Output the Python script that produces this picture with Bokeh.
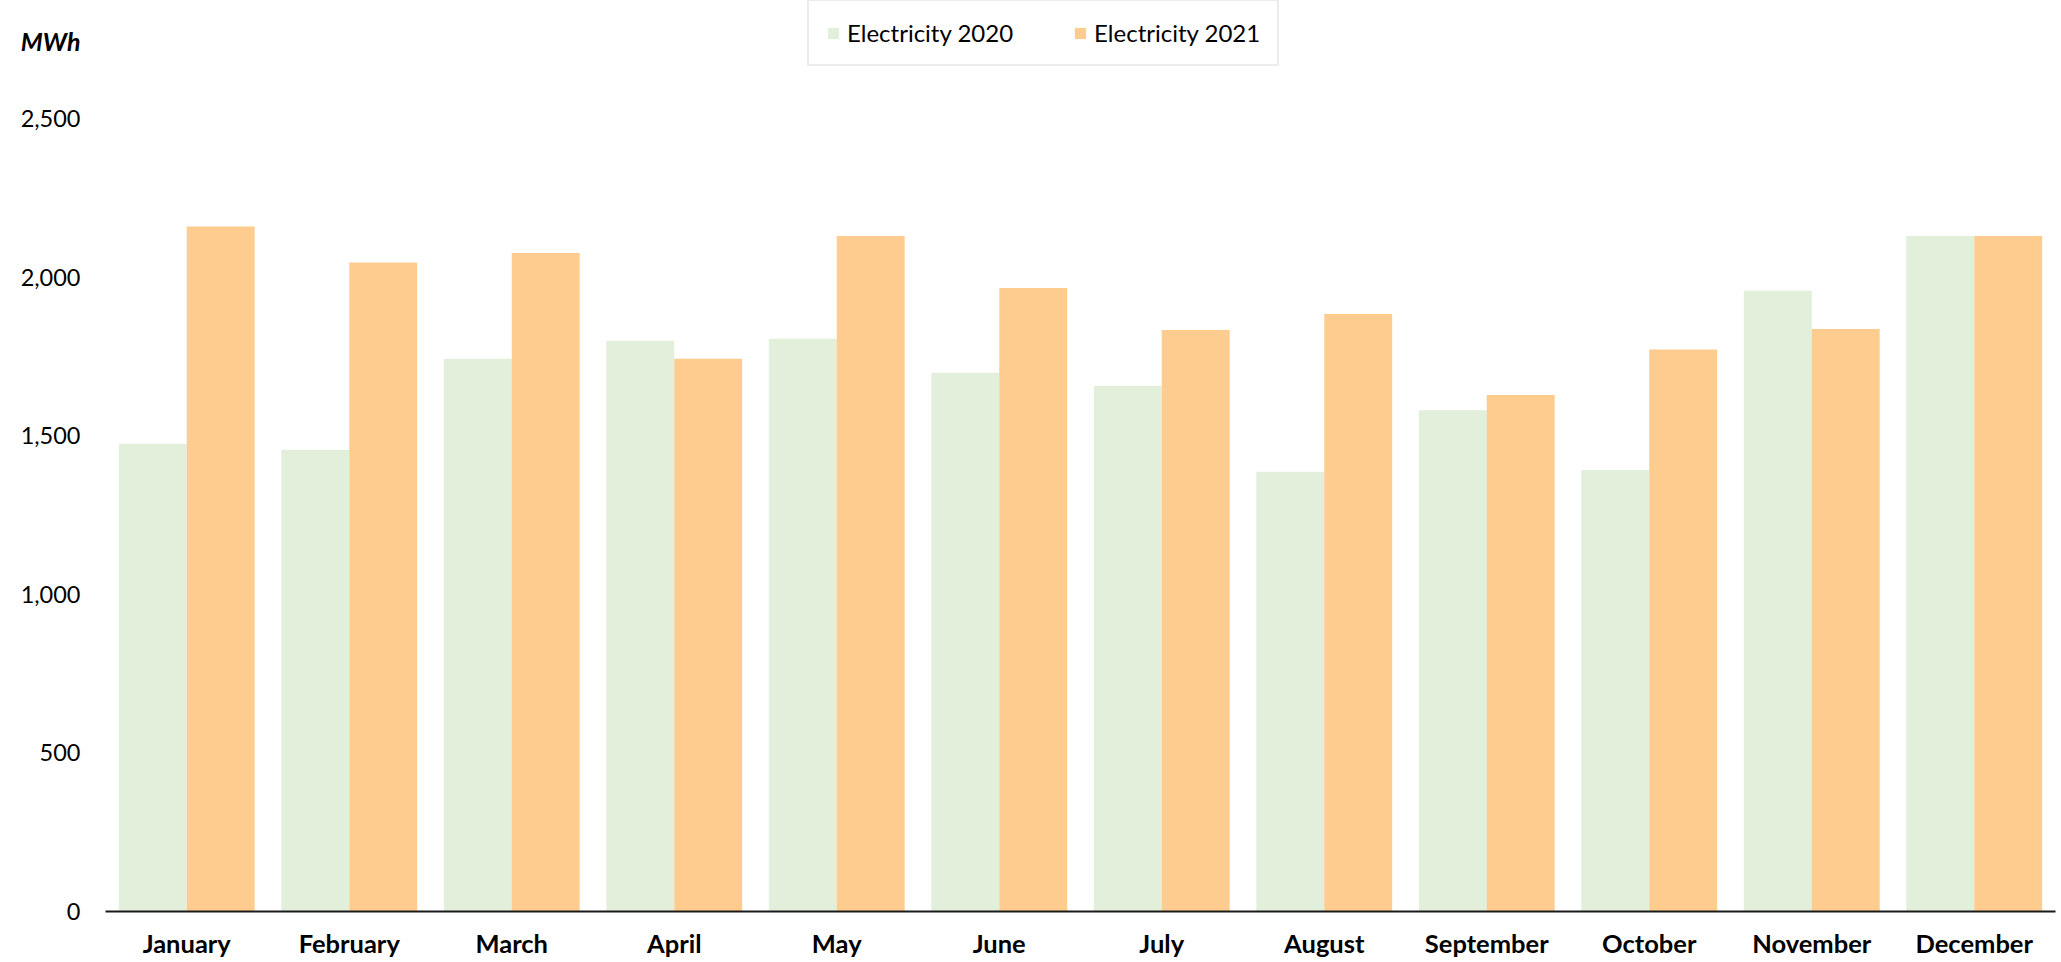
from bokeh.plotting import figure
from bokeh.models import (ColumnDataSource, FactorRange, Range1d, FixedTicker, Legend, LegendItem,
                          LinearAxis, NumeralTickFormatter)
from bokeh.transform import dodge
from bokeh.embed import file_html
from bokeh.resources import INLINE

months = ["January", "February", "March", "April", "May", "June", "July",
          "August", "September", "October", "November", "December"]
elec_2020 = [1475, 1456, 1743, 1800, 1806, 1699, 1658, 1387, 1581, 1392, 1958, 2130]
elec_2021 = [2160, 2047, 2077, 1743, 2130, 1966, 1834, 1884, 1629, 1772, 1837, 2130]
y_ticks = [0, 500, 1000, 1500, 2000, 2500]
unit_label = "MWh"

FONT = "Lato"
GREEN = "#E2EFDA"
ORANGE = "#FFCC8F"

src = ColumnDataSource(dict(month=months, e2020=elec_2020, e2021=elec_2021))

p = figure(width=2061, height=962, output_backend="svg", toolbar_location=None,
           x_range=FactorRange(*months, range_padding=0),
           y_range=Range1d(0, 2873),
           min_border_left=105, min_border_right=6, min_border_top=0, min_border_bottom=51)
p.outline_line_color = None
p.grid.grid_line_color = None

bw = 0.418
r1 = p.vbar(x=dodge("month", -bw / 2, range=p.x_range), top="e2020", width=bw, source=src,
            fill_color=GREEN, line_color=None)
r2 = p.vbar(x=dodge("month", bw / 2, range=p.x_range), top="e2021", width=bw, source=src,
            fill_color=ORANGE, line_color=None)

p.yaxis.axis_label = None
p.yaxis.ticker = FixedTicker(ticks=y_ticks)
p.yaxis.formatter = NumeralTickFormatter(format="0,0")
p.yaxis.axis_line_color = None
p.yaxis.major_tick_line_color = None
p.yaxis.minor_tick_line_color = None
p.yaxis.major_tick_out = 0
p.yaxis.major_label_standoff = 25
p.yaxis.major_label_text_font = FONT
p.yaxis.major_label_text_font_size = "23.5px"
p.yaxis.major_label_text_color = "#000000"

# unit title, placed top-left above the value labels
unit_pos = 2746
unit_axis = LinearAxis(ticker=FixedTicker(ticks=[unit_pos]),
                       major_label_overrides={unit_pos: unit_label},
                       axis_line_color=None, major_tick_line_color=None,
                       minor_tick_line_color=None, major_tick_out=0, major_tick_in=0,
                       major_label_standoff=-63,
                       major_label_text_font=FONT, major_label_text_font_size="25px",
                       major_label_text_font_style="bold italic",
                       major_label_text_color="#000000")
p.add_layout(unit_axis, "left")

p.xaxis.axis_label = None
p.xaxis.axis_line_color = "#1a1a1a"
p.xaxis.axis_line_width = 2
p.xaxis.major_tick_line_color = None
p.xaxis.minor_tick_line_color = None
p.xaxis.major_tick_out = 0
p.xaxis.major_label_standoff = 16
p.xaxis.major_label_text_font = FONT
p.xaxis.major_label_text_font_size = "25.5px"
p.xaxis.major_label_text_font_style = "bold"
p.xaxis.major_label_text_color = "#000000"

legend = Legend(items=[LegendItem(label="Electricity 2020", renderers=[r1]),
                       LegendItem(label="Electricity 2021", renderers=[r2])],
                orientation="horizontal", location=(702, 845),
                glyph_width=14, glyph_height=14, label_standoff=7, spacing=60,
                padding=17, border_line_color="#d9d9d9", border_line_width=2,
                label_text_font=FONT, label_text_font_size="24px", label_text_color="#000000",
                background_fill_alpha=1)
p.add_layout(legend, "center")

open("out.html", "w").write(file_html(p, INLINE))
